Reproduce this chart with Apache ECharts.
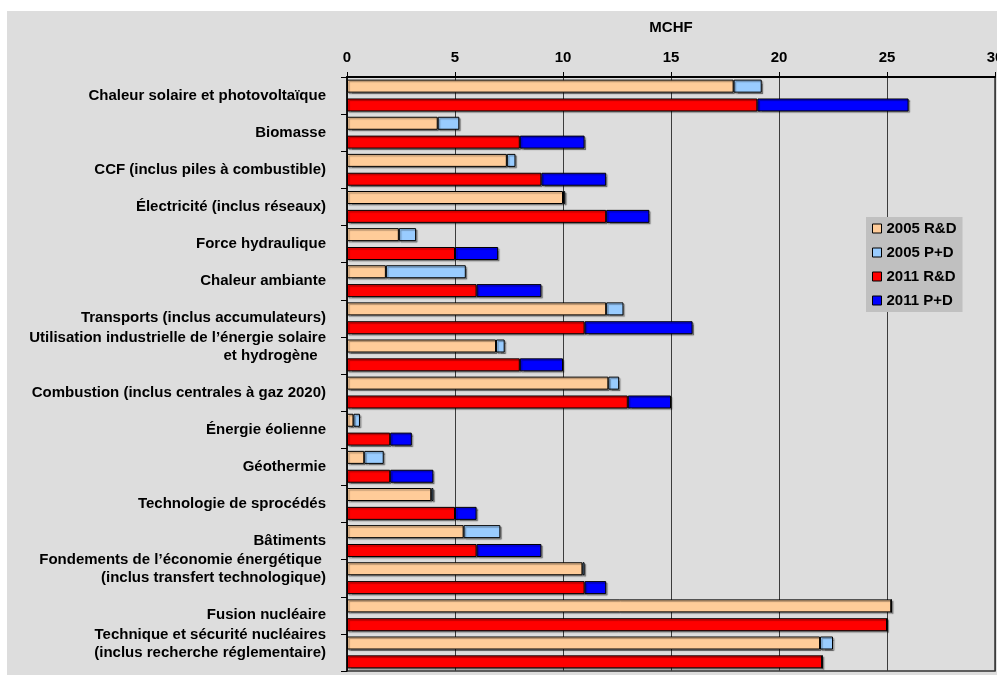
<!DOCTYPE html>
<html>
<head>
<meta charset="utf-8">
<script src="https://cdn.jsdelivr.net/npm/echarts@6/dist/echarts.min.js"></script>
<style>
  html, body { margin: 0; padding: 0; background: #ffffff; overflow: hidden; }
  #chart { position: absolute; left: 7px; top: 11px; width: 990px; height: 664px; }
</style>
</head>
<body>
<div id="chart"></div>
<script>
// Energy research funding by field, 2005 vs 2011 (MCHF)
const categories = [
  "Chaleur solaire et photovoltaïque",
  "Biomasse",
  "CCF (inclus piles à combustible)",
  "Électricité (inclus réseaux)",
  "Force hydraulique",
  "Chaleur ambiante",
  "Transports (inclus accumulateurs)",
  "Utilisation industrielle de l’énergie solaire\net hydrogène  ",
  "Combustion (inclus centrales à gaz 2020)",
  "Énergie éolienne",
  "Géothermie",
  "Technologie de sprocédés",
  "Bâtiments",
  "Fondements de l’économie énergétique \n(inclus transfert technologique)",
  "Fusion nucléaire",
  "Technique et sécurité nucléaires\n(inclus recherche réglementaire)"
];

const seriesNames = ["2005 R&D", "2005 P+D", "2011 R&D", "2011 P+D"];

const rd2005 = [17.9, 4.2, 7.4, 10.0, 2.4, 1.8, 12.0, 6.9, 12.1, 0.3, 0.8, 3.9, 5.4, 10.9, 25.2, 21.9];
const pd2005 = [1.3, 1.0, 0.4, 0.1, 0.8, 3.7, 0.8, 0.4, 0.5, 0.3, 0.9, 0.1, 1.7, 0.1, 0, 0.6];
const rd2011 = [19.0, 8.0, 9.0, 12.0, 5.0, 6.0, 11.0, 8.0, 13.0, 2.0, 2.0, 5.0, 6.0, 11.0, 25.0, 22.0];
const pd2011 = [7.0, 3.0, 3.0, 2.0, 2.0, 3.0, 5.0, 2.0, 2.0, 1.0, 2.0, 1.0, 3.0, 1.0, 0, 0];

const xTicks = [0, 5, 10, 15, 20, 25, 30];

const colors = ["#ffcc99", "#99ccff", "#ff0000", "#0000ff"];
const FONT = "'Liberation Sans', Arial, sans-serif";

const chart = echarts.init(document.getElementById('chart'), null, { renderer: 'canvas' });

function barSeries(name, data, stack, color) {
  return {
    name: name,
    type: 'bar',
    stack: stack,
    data: data,
    barWidth: 13,
    barGap: '45%',
    itemStyle: {
      color: color,
      borderColor: '#000000',
      borderWidth: 1,
      shadowColor: 'rgba(0,0,0,0.35)',
      shadowOffsetX: 1.5,
      shadowOffsetY: 1.5,
      shadowBlur: 1
    },
    emphasis: { disabled: true },
    animation: false
  };
}

chart.setOption({
  backgroundColor: '#dddddd',
  animation: false,
  textStyle: { fontFamily: FONT },
  grid: {
    left: 340, top: 66, width: 648, height: 594,
    outerBoundsMode: 'none',
    containLabel: false,
    show: true, backgroundColor: 'transparent',
    borderColor: '#333333', borderWidth: 1.5
  },
  legend: {
    orient: 'vertical',
    left: 859, top: 206,
    backgroundColor: '#c0c0c0',
    padding: [4, 6, 4, 6],
    itemWidth: 9, itemHeight: 9, itemGap: 9,
    icon: 'rect',
    itemStyle: { borderColor: '#000000', borderWidth: 1 },
    textStyle: { fontFamily: FONT, fontWeight: 'bold', fontSize: 15, color: '#000000' },
    data: seriesNames
  },
  xAxis: {
    type: 'value',
    position: 'top',
    min: xTicks[0],
    max: xTicks[xTicks.length - 1],
    interval: xTicks[1] - xTicks[0],
    name: 'MCHF',
    nameLocation: 'middle',
    nameGap: 42,
    nameTextStyle: { fontFamily: FONT, fontWeight: 'bold', fontSize: 15, color: '#000000' },
    axisLine: { show: true, lineStyle: { color: '#000000', width: 2 } },
    axisTick: { show: true, length: 5, lineStyle: { color: '#000000', width: 1 } },
    axisLabel: {
      margin: 12,
      hideOverlap: false,
      fontFamily: FONT, fontWeight: 'bold', fontSize: 15, color: '#000000',
      formatter: v => xTicks.includes(v) ? String(v) : ''
    },
    splitLine: { show: true, lineStyle: { color: '#3c3c3c', width: 1 } }
  },
  yAxis: {
    type: 'category',
    inverse: true,
    data: categories,
    axisLine: { show: true, lineStyle: { color: '#000000', width: 1.5 } },
    axisTick: { show: true, length: 6, lineStyle: { color: '#000000', width: 1 } },
    axisLabel: {
      margin: 21,
      interval: 0,
      fontFamily: FONT, fontWeight: 'bold', fontSize: 15, lineHeight: 18, color: '#000000',
      // multi-line labels sit half a line above the band centre
      formatter: v => v.indexOf('\n') >= 0 ? v + '\n' : v
    },
    splitLine: { show: false }
  },
  series: [
    barSeries(seriesNames[0], rd2005, 'y2005', colors[0]),
    barSeries(seriesNames[1], pd2005, 'y2005', colors[1]),
    barSeries(seriesNames[2], rd2011, 'y2011', colors[2]),
    barSeries(seriesNames[3], pd2011, 'y2011', colors[3])
  ]
});
</script>
</body>
</html>
